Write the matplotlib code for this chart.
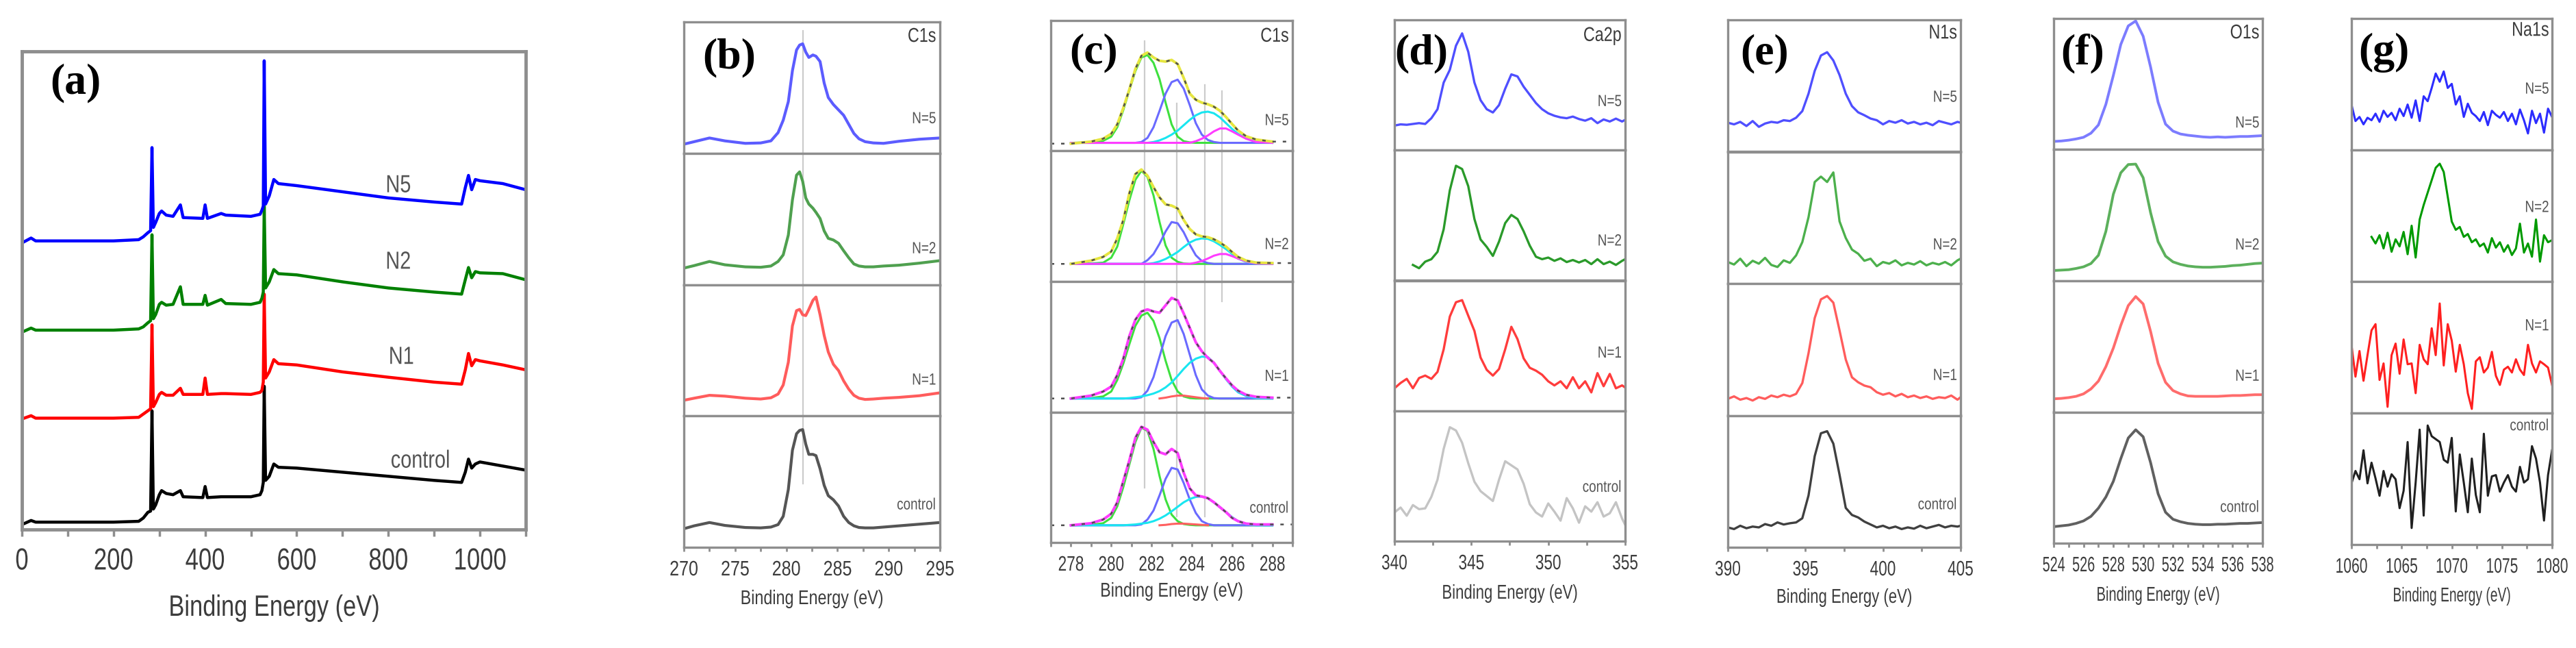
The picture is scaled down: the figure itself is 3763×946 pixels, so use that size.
import numpy as np
import matplotlib
matplotlib.use("Agg")
import matplotlib.pyplot as plt
from matplotlib.ticker import MultipleLocator
from matplotlib.patheffects import AbstractPathEffect
from matplotlib.transforms import Affine2D

nan = np.nan

# ---- (a) survey spectra, intensity in arbitrary units (stacked) ----
x_a = [0, 20, 30, 100, 200, 255, 265, 275, 281, 284, 287, 292, 300, 305, 315, 330, 346, 352,
       395, 400, 405, 435, 445, 500, 520, 524, 527, 529, 532, 540, 550, 560, 600, 700, 800,
       900, 960, 968, 975, 982, 990, 1000, 1050, 1100]
a_ctrl = [12, 22, 18, 18, 18, 20, 28, 42, 45, 290, 50, 60, 85, 95, 88, 85, 95, 80, 78, 105, 78,
          80, 80, 80, 85, 95, 115, 350, 120, 130, 160, 152, 150, 140, 130, 120, 115, 140, 172,
          150, 160, 165, 155, 145]
a_n1 = [270, 278, 272, 272, 272, 274, 282, 290, 295, 500, 300, 310, 330, 335, 328, 328, 345, 330,
        330, 370, 330, 332, 332, 330, 335, 340, 360, 575, 370, 385, 415, 405, 402, 385, 372, 360,
        355, 390, 430, 400, 415, 412, 402, 390]
a_n2 = [482, 492, 487, 487, 487, 490, 495, 505, 510, 720, 515, 525, 550, 555, 548, 550, 593, 550,
        550, 572, 548, 562, 552, 550, 555, 565, 580, 790, 590, 605, 635, 625, 622, 605, 590, 580,
        575, 610, 640, 615, 630, 627, 625, 610]
a_n5 = [700, 712, 705, 705, 705, 708, 715, 725, 730, 933, 738, 750, 772, 778, 768, 765, 793, 762,
        760, 793, 760, 772, 768, 765, 770, 780, 790, 1145, 795, 815, 855, 845, 840, 825, 810, 800,
        795, 835, 865, 830, 855, 852, 845, 830]
a_ticks = [0, 200, 400, 600, 800, 1000]
a_names = ["control", "N1", "N2", "N5"]

# ---- (b) C1s ----
x_b = [270.0, 271.0, 272.5, 274.0, 276.0, 277.5, 278.5, 279.2, 279.7, 280.2, 280.6, 281.0, 281.3,
       281.6, 281.9, 282.2, 282.6, 282.9, 283.3, 283.7, 284.1, 284.6, 285.1, 285.6, 286.1, 286.6,
       287.1, 287.7, 288.5, 289.5, 291.0, 293.0, 295.0]
b_n5 = [22, 28, 37, 30, 24, 25, 30, 50, 80, 125, 200, 250, 262, 265, 245, 232, 238, 235, 222, 170,
        135, 118, 105, 92, 70, 48, 35, 28, 25, 24, 29, 34, 37]
b_n2 = [40, 46, 56, 48, 43, 42, 45, 56, 72, 120, 205, 265, 273, 250, 210, 195, 185, 175, 160, 130,
        112, 108, 100, 82, 65, 50, 45, 43, 43, 45, 47, 52, 58]
b_n1 = [38, 43, 50, 48, 43, 41, 44, 53, 75, 130, 218, 255, 258, 245, 243, 258, 280, 288, 245, 195,
        155, 125, 110, 85, 65, 50, 43, 40, 41, 43, 45, 49, 56]
b_ctrl = [45, 52, 60, 53, 48, 47, 49, 55, 75, 140, 235, 275, 283, 285, 250, 225, 225, 222, 190, 150,
          125, 115, 100, 75, 60, 52, 48, 47, 47, 49, 52, 56, 60]

# ---- (c) C1s peak fitting ----
x_c = [278.0, 279.0, 279.6, 280.0, 280.3, 280.6, 280.9, 281.2, 281.5, 281.8, 282.1, 282.4, 282.7,
       283.0, 283.3, 283.6, 283.9, 284.2, 284.5, 284.8, 285.1, 285.4, 285.7, 286.0, 286.3, 286.7,
       287.2, 288.0]
c_env5 = [18, 23, 30, 42, 65, 105, 150, 200, 232, 240, 228, 220, 218, 222, 212, 178, 140, 125, 118,
          114, 108, 98, 83, 66, 50, 36, 28, 23]
c_green5 = [20, 21, 25, 35, 58, 100, 148, 195, 228, 234, 215, 175, 118, 65, 35, 24, 21, 20, 20, 20,
            20, 20, 20, 20, 20, 20, 20, 20]
c_blue5 = [20, 20, 20, 20, 20, 20, 20, 20, 22, 32, 58, 98, 140, 168, 174, 152, 112, 68, 40, 27, 22,
           20, 20, 20, 20, 20, 20, 20]
c_cyan5 = [20, 20, 20, 20, 20, 20, 20, 20, 20, 20, 22, 26, 32, 40, 50, 63, 76, 87, 94, 96, 92, 82,
           68, 54, 42, 31, 23, 20]
c_mag5 = [20, 20, 20, 20, 20, 20, 20, 20, 20, 20, 20, 20, 20, 20, 20, 20, 20, 24, 30, 38, 48, 55,
          55, 48, 40, 30, 22, 20]

c_env2 = [43, 51, 60, 73, 105, 150, 215, 262, 273, 258, 230, 205, 188, 185, 178, 150, 128, 115, 110,
          108, 103, 95, 85, 72, 60, 51, 46, 45]
c_green2 = [43, 44, 46, 58, 85, 140, 198, 248, 270, 255, 210, 145, 88, 58, 48, 44, 43, 43, 43, 43,
            43, 43, 43, 43, 43, 43, 43, 43]
c_blue2 = [43, 43, 43, 43, 43, 43, 43, 43, 43, 52, 67, 92, 122, 145, 142, 120, 90, 64, 50, 45, 43,
           43, 43, 43, 43, 43, 43, 43]
c_cyan2 = [43, 43, 43, 43, 43, 43, 43, 43, 43, 43, 45, 49, 55, 63, 72, 84, 95, 102, 105, 104, 98, 89,
           79, 67, 56, 48, 44, 43]
c_mag2 = [43, 43, 43, 43, 43, 43, 43, 43, 43, 43, 43, 43, 43, 43, 43, 43, 43, 46, 50, 56, 63, 67,
          67, 62, 56, 49, 44, 43]

c_env1 = [33, 40, 50, 62, 90, 130, 185, 225, 245, 250, 245, 242, 260, 278, 272, 240, 205, 170, 148,
          132, 120, 100, 82, 65, 52, 42, 37, 35]
c_green1 = [33, 34, 38, 50, 78, 118, 165, 210, 235, 242, 222, 180, 125, 78, 50, 38, 34, 33, 33, 33,
            33, 33, 33, 33, 33, 33, 33, 33]
c_blue1 = [33, 33, 33, 33, 33, 33, 33, 33, 36, 52, 85, 135, 185, 218, 224, 190, 140, 90, 55, 40, 34,
           33, 33, 33, 33, 33, 33, 33]
c_cyan1 = [33, 33, 33, 33, 33, 33, 34, 36, 38, 41, 45, 51, 60, 72, 88, 105, 120, 130, 135, 134, 120,
           100, 80, 62, 48, 39, 34, 33]
c_red1 = [nan, nan, nan, nan, nan, nan, nan, nan, nan, nan, nan, 33, 35, 38, 40, 40, 38, 36, 34, 33,
          nan, nan, nan, nan, nan, nan, nan, nan]

c_env0 = [42, 47, 56, 70, 98, 150, 200, 255, 282, 275, 245, 220, 215, 228, 218, 170, 132, 115, 112,
          108, 98, 86, 74, 60, 52, 46, 44, 44]
c_green0 = [42, 43, 47, 60, 88, 135, 190, 245, 280, 272, 228, 162, 105, 68, 52, 45, 43, 42, 42, 42,
            42, 42, 42, 42, 42, 42, 42, 42]
c_blue0 = [42, 42, 42, 42, 42, 42, 42, 42, 44, 56, 78, 115, 155, 182, 178, 145, 105, 72, 52, 45, 42,
           42, 42, 42, 42, 42, 42, 42]
c_cyan0 = [42, 42, 42, 42, 42, 42, 43, 44, 46, 48, 52, 58, 66, 76, 87, 98, 106, 111, 112, 108, 98,
           86, 74, 62, 52, 45, 42, 42]
c_red0 = [nan, nan, nan, nan, nan, nan, nan, nan, nan, nan, nan, 42, 43, 45, 46, 46, 45, 44, 43, 42,
          nan, nan, nan, nan, nan, nan, nan, nan]
c_lines = [281.65, 283.25, 284.65, 285.5]

# ---- (d) Ca2p ----
x_d = [340.0, 340.4, 340.8, 341.2, 341.6, 342.0, 342.4, 342.8, 343.2, 343.6, 344.0, 344.4, 344.8,
       345.2, 345.6, 346.0, 346.4, 346.8, 347.2, 347.6, 348.0, 348.4, 348.8, 349.2, 349.6, 350.0,
       350.4, 350.8, 351.2, 351.6, 352.0, 352.4, 352.8, 353.2, 353.6, 354.0, 354.4, 354.8, 355.0]
d_n5 = [60, 63, 62, 64, 66, 64, 78, 100, 165, 196, 255, 285, 240, 165, 122, 100, 92, 110, 150, 185,
        180, 155, 135, 115, 100, 90, 84, 80, 78, 82, 76, 72, 78, 66, 75, 70, 77, 70, 74]
d_n2 = [nan, nan, nan, 38, 30, 46, 52, 70, 125, 220, 280, 272, 230, 150, 100, 82, 60, 95, 140, 160,
        150, 120, 85, 58, 52, 56, 48, 54, 45, 50, 44, 50, 40, 52, 40, 46, 38, 48, 52]
d_n1 = [55, 68, 78, 55, 80, 86, 78, 95, 150, 230, 265, 270, 232, 195, 130, 100, 86, 102, 150, 205,
        175, 128, 105, 98, 88, 72, 62, 72, 55, 82, 55, 72, 45, 92, 60, 90, 55, 62, 57]
d_ctrl = [70, 82, 62, 88, 78, 80, 108, 150, 225, 278, 270, 240, 190, 145, 122, 110, 98, 150, 195,
          185, 175, 140, 90, 70, 60, 92, 72, 50, 105, 80, 45, 85, 72, 95, 60, 68, 95, 55, 40]

# ---- (e) N1s ----
x_e = [390.0, 390.4, 390.8, 391.2, 391.6, 392.0, 392.4, 392.8, 393.2, 393.6, 394.0, 394.4, 394.8,
       395.2, 395.6, 396.0, 396.4, 396.8, 397.2, 397.6, 398.0, 398.4, 398.8, 399.2, 399.6, 400.0,
       400.4, 400.8, 401.2, 401.6, 402.0, 402.4, 402.8, 403.2, 403.6, 404.0, 404.4, 404.8, 405.0]
e_n5 = [70, 66, 72, 62, 74, 60, 68, 72, 70, 76, 74, 82, 98, 140, 195, 232, 240, 220, 185, 140, 110,
        95, 88, 80, 76, 66, 74, 70, 76, 68, 72, 66, 70, 64, 74, 70, 66, 72, 70]
e_n2 = [52, 46, 60, 42, 55, 48, 62, 45, 40, 56, 50, 68, 100, 160, 245, 258, 245, 268, 150, 110, 82,
        72, 55, 60, 42, 52, 48, 56, 44, 50, 46, 54, 44, 50, 46, 52, 44, 56, 60]
e_n1 = [40, 46, 38, 42, 36, 44, 40, 48, 44, 50, 46, 52, 78, 150, 235, 280, 288, 272, 205, 135, 92,
        80, 72, 68, 56, 50, 54, 46, 52, 44, 48, 42, 46, 40, 44, 42, 48, 38, 44]
e_ctrl = [48, 44, 52, 46, 50, 48, 56, 52, 60, 55, 58, 60, 70, 125, 220, 275, 280, 250, 175, 95, 78,
          72, 62, 55, 48, 52, 46, 50, 44, 48, 45, 52, 46, 50, 54, 48, 52, 50, 52]

# ---- (f) O1s ----
x_f = [524.0, 524.5, 525.0, 525.5, 526.0, 526.5, 527.0, 527.5, 528.0, 528.5, 529.0, 529.5, 530.0,
       530.5, 531.0, 531.5, 532.0, 532.5, 533.0, 533.5, 534.0, 534.5, 535.0, 535.5, 536.0, 536.5,
       537.0, 537.5, 538.0]
f_n5 = [20, 21, 23, 26, 30, 40, 60, 110, 180, 255, 300, 312, 275, 200, 115, 62, 45, 38, 35, 33, 31,
        30, 31, 30, 31, 32, 32, 33, 34]
f_n2 = [25, 26, 27, 30, 34, 42, 62, 120, 210, 262, 282, 283, 250, 165, 95, 60, 46, 40, 36, 34, 33,
        33, 34, 35, 37, 38, 40, 42, 43]
f_n1 = [32, 33, 35, 38, 44, 56, 75, 110, 155, 210, 258, 280, 262, 195, 118, 72, 52, 44, 39, 38, 38,
        38, 38, 39, 40, 40, 41, 42, 42]
f_ctrl = [40, 42, 44, 48, 54, 65, 85, 112, 150, 205, 255, 275, 258, 195, 120, 75, 58, 52, 48, 46, 45,
          45, 46, 46, 47, 48, 48, 49, 50]

# ---- (g) Na1s ----
x_g = [1060.0, 1060.4, 1060.8, 1061.2, 1061.6, 1062.0, 1062.4, 1062.8, 1063.2, 1063.6, 1064.0,
       1064.4, 1064.8, 1065.2, 1065.6, 1066.0, 1066.4, 1066.8, 1067.2, 1067.6, 1068.0, 1068.4,
       1068.8, 1069.2, 1069.6, 1070.0, 1070.4, 1070.8, 1071.2, 1071.6, 1072.0, 1072.4, 1072.8,
       1073.2, 1073.6, 1074.0, 1074.4, 1074.8, 1075.2, 1075.6, 1076.0, 1076.4, 1076.8, 1077.2,
       1077.6, 1078.0, 1078.4, 1078.8, 1079.2, 1079.6, 1080.0]
g_n5 = [110, 70, 80, 62, 78, 72, 88, 68, 95, 80, 90, 72, 100, 82, 110, 78, 120, 70, 130, 118, 150,
        185, 165, 190, 150, 160, 110, 130, 80, 112, 90, 82, 70, 92, 60, 95, 85, 78, 92, 70, 88, 62,
        98, 72, 40, 95, 65, 88, 42, 100, 80]
g_n2 = [nan, nan, nan, nan, nan, 108, 92, 112, 80, 118, 72, 102, 85, 120, 66, 135, 58, 150, 185, 215,
        245, 275, 285, 265, 205, 145, 125, 132, 108, 115, 95, 102, 85, 92, 70, 105, 82, 95, 72, 88,
        64, 80, 140, 70, 92, 60, 150, 48, 112, 95, 100]
g_n1 = [165, 88, 150, 78, 140, 200, 215, 80, 120, 15, 140, 168, 95, 178, 118, 120, 48, 165, 130, 118,
        205, 140, 265, 115, 215, 175, 100, 165, 118, 48, 10, 125, 135, 98, 110, 148, 90, 68, 105,
        112, 98, 130, 105, 92, 165, 120, 98, 125, 118, 110, 68]
g_ctrl = [148, 178, 158, 228, 148, 198, 160, 118, 178, 140, 170, 158, 88, 130, 248, 40, 150, 278, 70,
          288, 262, 255, 248, 205, 198, 258, 80, 218, 150, 78, 208, 120, 78, 268, 118, 165, 168, 128,
          150, 168, 140, 128, 188, 150, 158, 238, 208, 150, 58, 168, 228]

sub_names = ["N=5", "N=2", "N=1", "control"]


class Squeeze(AbstractPathEffect):
    """Draw text narrower than the font (the original labels use a condensed face)."""

    def __init__(self, sx=0.82, anchor='center'):
        super().__init__()
        self.sx = sx
        self.anchor = anchor

    def draw_path(self, renderer, gc, tpath, affine, rgbFace=None):
        ext = tpath.get_extents()
        cx = {'left': ext.x0, 'right': ext.x1}.get(self.anchor, (ext.x0 + ext.x1) / 2)
        t = Affine2D().translate(-cx, 0).scale(self.sx, 1).translate(cx, 0) + affine
        renderer.draw_path(gc, tpath, t, rgbFace)


plt.rcParams['font.family'] = ['Liberation Sans', 'DejaVu Sans']

W, H = 3763, 946
fig = plt.figure(figsize=(W / 100, H / 100), dpi=100)
SPINE = '#8e8e8e'
TXT = '#3c3c3c'
LBL = '#555555'


def px_box(l, r, t, b):
    return [l / W, 1 - b / H, (r - l) / W, (b - t) / H]


def style_spines(ax, lw):
    for s in ax.spines.values():
        s.set_color(SPINE)
        s.set_linewidth(lw)


def stack(l, r, t, b, xlim, ticks, minor, yfrac, elem, elem_y, xlabel_y, tick_sx, label_sx):
    h = (b - t) / 4
    axes, spans = [], []
    for i in range(4):
        top, bot = t + i * h, t + (i + 1) * h
        ax = fig.add_axes(px_box(l, r, top, bot))
        ax.set_xlim(*xlim)
        ax.set_ylim(0, 318)
        ax.set_yticks([])
        style_spines(ax, 2.4)
        if i < 3:
            ax.set_xticks([])
        else:
            ax.set_xticks(ticks)
            ax.set_xticklabels([str(v) for v in ticks])
            ax.xaxis.set_minor_locator(MultipleLocator(minor))
            ax.tick_params(axis='x', which='both', direction='out', length=4, width=2,
                           color=SPINE, labelsize=22, labelcolor=TXT, pad=9)
            for lab in ax.get_xticklabels():
                lab.set_path_effects([Squeeze(tick_sx, 'center')])
        ax.text(0.985, yfrac[i], sub_names[i], transform=ax.transAxes, ha='right',
                va='center', fontsize=17, color=LBL, path_effects=[Squeeze(0.8, 'right')])
        axes.append(ax)
        spans.append((top, bot))
    axes[0].text(0.985, elem_y, elem, transform=axes[0].transAxes, ha='right', va='center',
                 fontsize=21, color=TXT, path_effects=[Squeeze(0.8, 'right')])
    fig.text((l + r) / 2 / W, 1 - xlabel_y / H, 'Binding Energy (eV)', ha='center',
             va='center', fontsize=21, color=TXT, path_effects=[Squeeze(label_sx, 'center')])
    return axes, spans


def vline(axes, spans, x, y0, y1):
    for ax, (t, b) in zip(axes, spans):
        lo, hi = max(y0, t), min(y1, b)
        if hi > lo:
            ax.axvline(x, ymin=(b - hi) / (b - t), ymax=(b - lo) / (b - t),
                       color='#cccccc', lw=1.6, zorder=0)


def panel_letter(x, y, s):
    fig.text(x / W, 1 - y / H, s, ha='center', va='center', fontsize=46,
             fontweight='bold', family=['Liberation Serif', 'DejaVu Serif'], color='black')


# ---- (a) ----
ax = fig.add_axes(px_box(32, 768, 75, 773))
for y, c in zip([a_ctrl, a_n1, a_n2, a_n5], ['#000000', '#ff0000', '#008000', '#0000ff']):
    ax.plot(x_a, y, color=c, lw=3.2)
ax.set_xlim(0, 1100)
ax.set_ylim(0, 1168)
ax.set_yticks([])
ax.set_xticks(a_ticks)
ax.set_xticklabels([str(v) for v in a_ticks])
ax.xaxis.set_minor_locator(MultipleLocator(100))
ax.tick_params(axis='x', which='both', direction='out', length=7, width=2.5, color=SPINE,
               labelsize=32, labelcolor=TXT, pad=12)
for lab in ax.get_xticklabels():
    lab.set_path_effects([Squeeze(0.78, 'center')])
style_spines(ax, 3.5)
for name, (fx, fy) in zip(a_names, [(0.791, 0.143), (0.753, 0.36), (0.747, 0.559), (0.747, 0.719)]):
    ax.text(fx, fy, name, transform=ax.transAxes, ha='center', va='center', fontsize=26,
            color=LBL, path_effects=[Squeeze(0.8, 'center')])
fig.text(400 / W, 1 - 888 / H, 'Binding Energy (eV)', ha='center', va='center', fontsize=31,
         color=TXT, path_effects=[Squeeze(0.8, 'center')])
panel_letter(110, 121, '(a)')

# ---- (b) ----
axes, spans = stack(999, 1373, 32, 799, (270, 295), [270, 275, 280, 285, 290, 295], 2.5,
                    [0.26, 0.27, 0.27, 0.32], 'C1s', 0.89, 874, 0.82, 0.80)
for ax, y, c in zip(axes, [b_n5, b_n2, b_n1, b_ctrl], ['#5c5cff', '#4fa04f', '#ff5c5c', '#555555']):
    ax.plot(x_b, y, color=c, lw=3.0)
vline(axes, spans, 281.6, 45, 706)
panel_letter(1065, 84, '(b)')

# ---- (c) ----
axes, spans = stack(1535, 1888, 30, 792, (277, 289), [278, 280, 282, 284, 286, 288], 1,
                    [0.23, 0.28, 0.27, 0.26], 'C1s', 0.88, 863, 0.74, 0.80)
GREEN, BLUE, CYAN, MAG, YEL, RED, DATA = ('#3ee03e', '#6a6aff', '#19e6f0', '#ff3cff', '#e6e640',
                                           '#ff6060', '#505050')
fits = [
    (c_env5, YEL, [(c_green5, GREEN), (c_blue5, BLUE), (c_cyan5, CYAN), (c_mag5, MAG)]),
    (c_env2, YEL, [(c_green2, GREEN), (c_blue2, BLUE), (c_cyan2, CYAN), (c_mag2, MAG)]),
    (c_env1, MAG, [(c_green1, GREEN), (c_blue1, BLUE), (c_cyan1, CYAN), (c_red1, RED)]),
    (c_env0, MAG, [(c_green0, GREEN), (c_blue0, BLUE), (c_cyan0, CYAN), (c_red0, RED)]),
]
for ax, (env, ecol, comps) in zip(axes, fits):
    for y, c in comps:
        ax.plot(x_c, y, color=c, lw=2.2)
    ax.plot(x_c, env, color=ecol, lw=2.8)
    ax.plot([277.0] + x_c + [289.0], [env[0]] + env + [env[-1]], color=DATA, lw=1.8,
            ls=(0, (2, 4)))
for x, y0, y1 in zip(c_lines, [60, 151, 124, 133], [712, 754, 754, 440]):
    vline(axes, spans, x, y0, y1)
panel_letter(1598, 77, '(c)')

# ---- (d) ----
axes, spans = stack(2037, 2374, 29, 790, (340, 355), [340, 345, 350, 355], 2.5,
                    [0.37, 0.30, 0.44, 0.41], 'Ca2p', 0.88, 866, 0.74, 0.76)
for ax, y, c in zip(axes, [d_n5, d_n2, d_n1, d_ctrl], ['#4f4fff', '#2a9a2a', '#ff3c3c', '#c4c4c4']):
    ax.plot(x_d, y, color=c, lw=2.4)
panel_letter(2076, 78, '(d)')

# ---- (e) ----
axes, spans = stack(2524, 2864, 29, 799, (390, 405), [390, 395, 400, 405], 2.5,
                    [0.41, 0.29, 0.30, 0.32], 'N1s', 0.90, 872, 0.74, 0.76)
for ax, y, c in zip(axes, [e_n5, e_n2, e_n1, e_ctrl], ['#4f4fff', '#4cb04c', '#ff5c5c', '#404040']):
    ax.plot(x_e, y, color=c, lw=2.4)
panel_letter(2578, 78, '(e)')

# ---- (f) ----
axes, spans = stack(3000, 3305, 27, 793, (524, 538), [524, 526, 528, 530, 532, 534, 536, 538], 1,
                    [0.20, 0.27, 0.27, 0.27], 'O1s', 0.89, 869, 0.65, 0.69)
for ax, y, c in zip(axes, [f_n5, f_n2, f_n1, f_ctrl], ['#7c7cff', '#5cb05c', '#ff6c6c', '#606060']):
    ax.plot(x_f, y, color=c, lw=2.8)
panel_letter(3042, 78, '(f)')

# ---- (g) ----
axes, spans = stack(3435, 3728, 27, 795, (1060, 1080), [1060, 1065, 1070, 1075, 1080], 2.5,
                    [0.46, 0.56, 0.66, 0.90], 'Na1s', 0.91, 870, 0.69, 0.66)
for ax, y, c in zip(axes, [g_n5, g_n2, g_n1, g_ctrl], ['#2c2cff', '#009a00', '#ff2020', '#202020']):
    ax.plot(x_g, y, color=c, lw=2.2)
panel_letter(3482, 77, '(g)')

fig.savefig('out.png', dpi=100)
